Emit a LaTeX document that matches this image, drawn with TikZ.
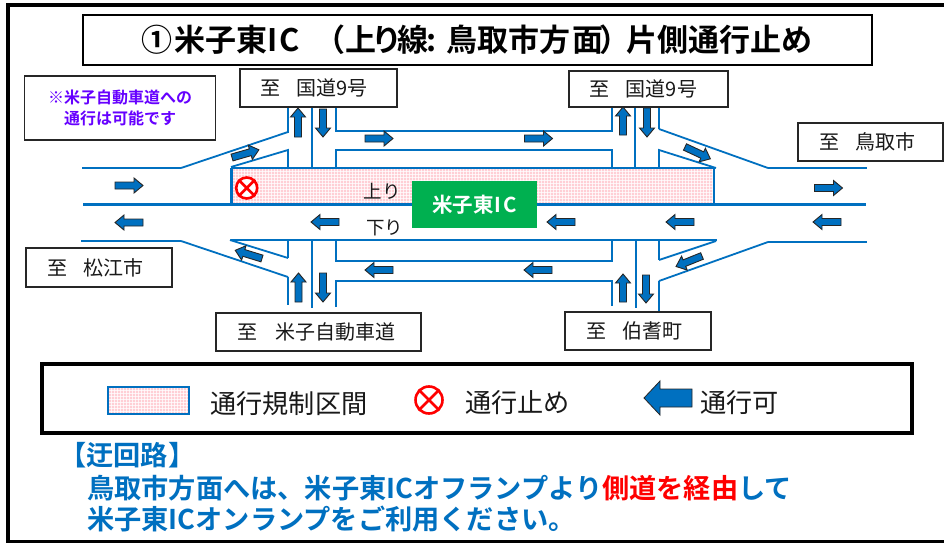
\documentclass[tikz,border=0pt]{standalone}
\usepackage{fontspec}
\setmainfont{Noto Sans CJK JP}
\newfontfamily\boldjp{Noto Sans CJK JP Bold}
\definecolor{roadblue}{HTML}{0070C0}
\definecolor{zonepink}{HTML}{FFCFD5}
\definecolor{notepurple}{HTML}{6600FF}
\definecolor{icgreen}{HTML}{00B050}
\newcommand{\blockarrow}[4][]{\draw[arrowbody,shift={(#2)},rotate=#3] (0,-3.5)--(#4-9,-3.5)--(#4-9,-7.5)--(#4,0)--(#4-9,7.5)--(#4-9,3.5)--(0,3.5)--cycle;}
\newcommand{\zonepatch}[4]{%
  \fill[zonepink] (#1,#2) rectangle (#3,#4);
  \begin{scope}
    \clip (#1,#2) rectangle (#3,#4);
    \foreach \gx in {#1,\the\numexpr#1+3\relax,...,#3} \draw[white,line width=.5pt,opacity=.75] (\gx,#2)--(\gx,#4);
    \foreach \gy in {#2,\the\numexpr#2+3\relax,...,#4} \draw[white,line width=.5pt,opacity=.75] (#1,\gy)--(#3,\gy);
  \end{scope}}
\tikzset{
  x=1pt,y=-1pt,
  road/.style={draw=roadblue,line width=2.4pt,line join=miter},
  roadthin/.style={draw=roadblue,line width=1.8pt,line join=miter},
  arrowbody/.style={draw=black!85,fill=roadblue,line width=.9pt,line join=miter},
  placebox/.style={draw=black!85,fill=white,line width=1.4pt,inner sep=0pt,font=\fontsize{20}{20}\selectfont,text=black!90},
  stopmark/.style={circle,draw=red,fill=white,inner sep=0pt},
  lab/.style={inner sep=0pt,text=black!90},
  detour/.style={inner sep=0pt,anchor=west,text=roadblue,font=\boldjp\fontsize{27.2}{27.2}\selectfont},
}
\begin{document}
\begin{tikzpicture}
\useasboundingbox (0,0) rectangle (944,543);
\fill[white] (0,0) rectangle (944,543);
% outer frame
\draw[black,line width=3.4pt] (946,5)--(8,5)--(8,541.2)--(946,541.2);
% title
\node[draw=black,line width=2pt,minimum width=789pt,minimum height=50pt,inner sep=0pt] (title) at (477.5,40) {};
\node[inner sep=0pt,anchor=west,font=\boldjp\fontsize{31}{31}\selectfont] (titletext) at (141,40) {①\hspace{2pt}米子東I\hspace{2pt}C\hspace{15pt}（上\hspace{-5pt}り\hspace{-5pt}線\hspace{-2pt}:\hspace{10pt}鳥取市方\hspace{2pt}面\hspace{-4pt}）\hspace{-4pt}片側通行止め};
% note
\node[draw=black!85,line width=1.6pt,minimum width=191pt,minimum height=64pt,inner sep=0pt,align=center,text=notepurple,font=\boldjp\fontsize{16}{20.5}\selectfont] (note) at (120,108) {※米子自動車道への\\通行は可能です};
% restricted section
\zonepatch{232}{168}{714}{204}
% roads, upper side
\draw[road] (82,168)--(181,168);
\draw[roadthin] (181,168)--(288,132);
\draw[road] (288,132.5)--(288,104);
\draw[roadthin] (231,167)--(288,150)--(288,168);
\draw[road] (231,168)--(714,168);
\draw[road] (231.5,168)--(231.5,204);
\draw[roadthin] (714,168)--(714,204);
\draw[road] (83,204.5)--(866,204.5);
\draw[road] (312,105)--(312,168);
\draw[road] (336,105)--(336,131)--(612,131)--(612,105);
\draw[road] (336,168)--(336,150)--(612,150)--(612,168);
\draw[road] (635,105)--(635,168);
\draw[road] (659,105)--(659,129);
\draw[roadthin] (659,129)--(768,168);
\draw[road] (768,168)--(867,168);
\draw[roadthin] (659,168)--(659,150)--(716,168);
% roads, lower side
\draw[road] (81,241)--(181,241);
\draw[roadthin] (181,241)--(288,277);
\draw[road] (288,277)--(288,305);
\draw[roadthin] (230,240)--(288,258);
\draw[road] (288,258)--(288,240);
\draw[road] (231,240)--(717,240);
\draw[road] (312,240)--(312,308);
\draw[road] (336,240)--(336,261)--(612,261)--(612,240);
\draw[road] (336,307)--(336,281)--(612,281)--(612,306);
\draw[roadthin] (636,240)--(636,308);
\draw[road] (659,240)--(659,260);
\draw[roadthin] (659,260)--(716,241);
\draw[road] (659,311)--(659,281);
\draw[roadthin] (659,281)--(768,242);
\draw[road] (768,242)--(867,242);
% place boxes
\node[placebox,minimum width=157pt,minimum height=38pt] (kokudoA) at (318.5,88) {至\hspace{16pt}国道9号\kern9pt};
\node[placebox,minimum width=159pt,minimum height=36pt] (kokudoB) at (648.5,89) {至\hspace{16pt}国道9号\kern10pt};
\node[placebox,minimum width=145pt,minimum height=38pt] (tottori) at (870.5,142) {至\hspace{16pt}鳥取市\kern7pt};
\node[placebox,minimum width=146pt,minimum height=39pt] (matsue) at (99,267.5) {至\hspace{16pt}松江市\kern8pt};
\node[placebox,minimum width=205pt,minimum height=38pt] (yonagoexp) at (318.5,332) {至\hspace{18pt}米子自動車道\kern4pt};
\node[placebox,minimum width=146pt,minimum height=38pt] (hoki) at (638,331) {至\hspace{16pt}伯耆町\kern8pt};
% arrows
\blockarrow{115,185.5}{0}{28}
\blockarrow{365,138.5}{0}{28}
\blockarrow{524.5,138.5}{0}{28}
\blockarrow{814.5,188}{0}{28}
\blockarrow{143,222.5}{180}{28}
\blockarrow{339,222}{180}{28}
\blockarrow{575,222}{180}{28}
\blockarrow{694,222}{180}{28}
\blockarrow{841,222}{180}{28}
\blockarrow{393,270}{180}{28}
\blockarrow{552,270}{180}{28}
\blockarrow{298,137}{90}{29}
\blockarrow{323,109}{-90}{28}
\blockarrow{623,135}{90}{28}
\blockarrow{647,108}{-90}{29}
\blockarrow{298.5,302}{90}{29}
\blockarrow{323,273}{-90}{29}
\blockarrow{623,302}{90}{28}
\blockarrow{646,275}{-90}{28}
\blockarrow{232,157.5}{16}{28}
\blockarrow{685,147}{-25}{28}
\blockarrow{262,258.5}{163}{28}
\blockarrow{702,256}{202}{28}
% stop mark on road
\node[stopmark,line width=2.6pt,minimum size=21pt] (stopA) at (246.7,188) {};
\draw[red,line width=2.6pt] (stopA.45)--(stopA.225) (stopA.135)--(stopA.315);
% labels on roads
\node[lab,font=\fontsize{18.5}{18.5}\selectfont] (uplabel) at (382,191) {上り};
\node[lab,font=\fontsize{18.5}{18.5}\selectfont] (downlabel) at (384.5,228) {下り};
\node[fill=icgreen,text=white,minimum width=125pt,minimum height=47pt,inner sep=0pt,font=\boldjp\fontsize{20.5}{20.5}\selectfont] (ic) at (474.5,204.5) {米子東\hspace{1pt}I\hspace{1.5pt}C};
% legend
\node[draw=black,line width=3.6pt,minimum width=870pt,minimum height=69pt,inner sep=0pt] (legend) at (477,398.5) {};
\zonepatch{108}{387}{189}{414}
\draw[roadthin,fill=none] (108,387) rectangle (189,414);
\node[lab,anchor=west,font=\fontsize{26.2}{26.2}\selectfont] (legzone) at (210,404) {通行規制区間};
\node[stopmark,line width=2.6pt,minimum size=27pt] (stopB) at (429,400) {};
\draw[red,line width=2.6pt] (stopB.45)--(stopB.225) (stopB.135)--(stopB.315);
\node[lab,anchor=west,font=\fontsize{26.2}{26.2}\selectfont] (legstop) at (465,402.5) {通行止め};
\draw[arrowbody,line width=.8pt] (692,389)--(660,389)--(660,381)--(644,398)--(660,415)--(660,407)--(692,407)--cycle;
\node[lab,anchor=west,font=\fontsize{26.2}{26.2}\selectfont] (legok) at (700,403) {通行可};
% detour text
\node[detour] (d1) at (59,455) {【迂回路】};
\node[detour] (d2) at (87,488) {鳥取市方面へは、米子東ICオフランプより\textcolor{red}{側道を経由}して};
\node[detour] (d3) at (87,519) {米子東ICオンランプをご利用ください。};
\end{tikzpicture}
\end{document}
